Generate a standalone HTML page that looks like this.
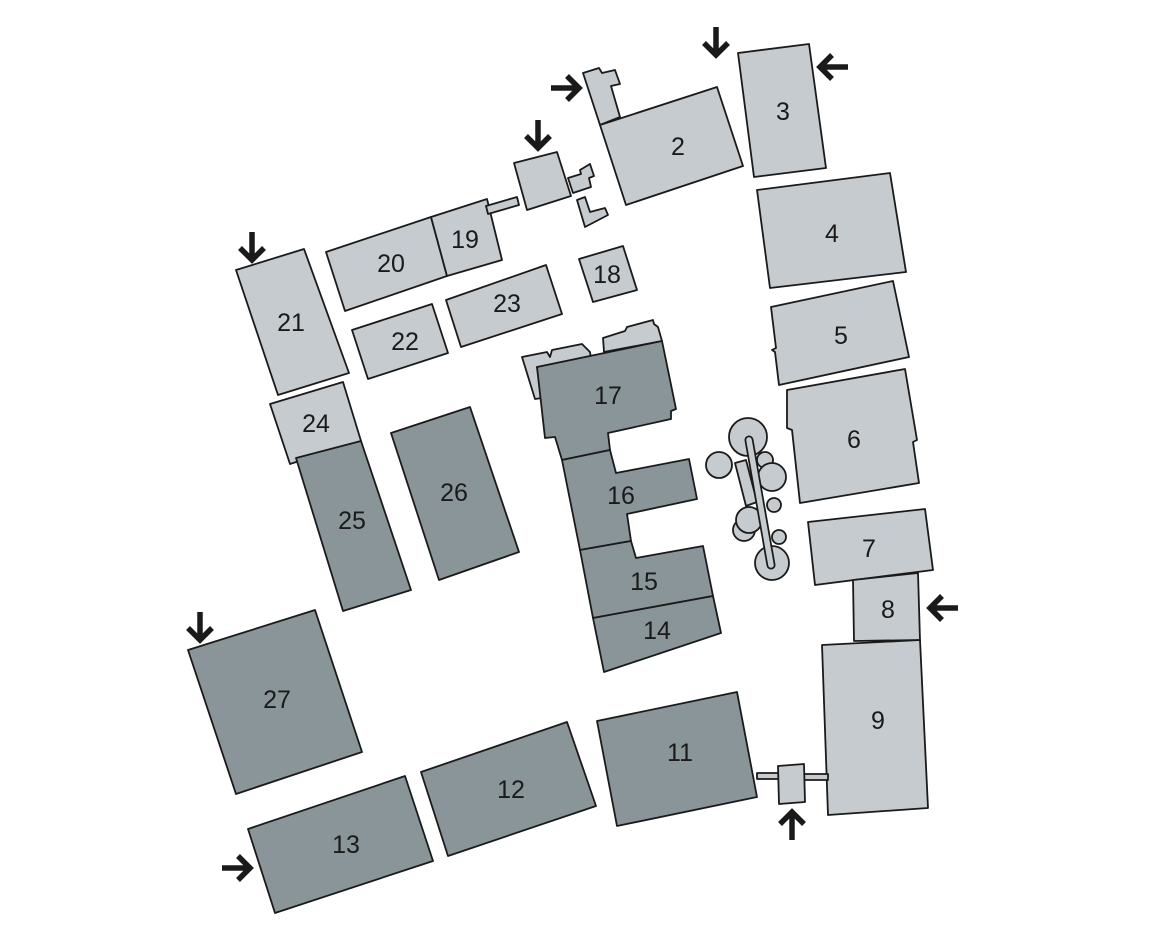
<!DOCTYPE html>
<html><head><meta charset="utf-8"><style>
html,body{margin:0;padding:0;background:#fff;}
svg{display:block;}
text{font-family:"Liberation Sans",sans-serif;font-size:25px;fill:#1a1a1a;text-anchor:middle;dominant-baseline:central;}
.l{fill:#c5cbce;stroke:#1a1a1a;stroke-width:1.8;stroke-linejoin:round;}
.d{fill:#8a9599;stroke:#1a1a1a;stroke-width:1.8;stroke-linejoin:round;}
.a{stroke:#1a1a1a;stroke-width:5.5;fill:none;}
</style></head><body>
<svg width="1160" height="935" viewBox="0 0 1160 935" xmlns="http://www.w3.org/2000/svg">
<polygon class="l" points="583,73 599,68 602,73 615,70 620,84 611,86 620,117 600,125"/>
<polygon class="l" points="600,125 717,87 743,166 626,205"/>
<polygon class="l" points="738,53 809,44 826,168 754,177"/>
<polygon class="l" points="757,190 890,173 906,272 770,288"/>
<polygon class="l" points="771,307 893,281 909,357 779,385 775,352 772,350 776,348"/>
<polygon class="l" points="787,390 905,369 917,440 913,442 919,483 800,503 792,430 787,428"/>
<polygon class="l" points="808,522 925,509 933,570 815,585"/>
<polygon class="l" points="853,580 918,573 920,640 854,641"/>
<polygon class="l" points="822,645 920,640 928,808 828,815"/>
<rect class="l" x="757" y="773" width="22" height="6"/>
<rect class="l" x="804" y="774" width="24" height="6"/>
<polygon class="l" points="778,766 804,764 805,802 779,804"/>
<polygon class="l" points="236,270 304,249 349,373 278,395"/>
<polygon class="l" points="352,330 432,304 448,353 368,379"/>
<polygon class="l" points="326,252 431,217 447,276 345,311"/>
<polygon class="l" points="431,217 487,199 502,260 447,276"/>
<polygon class="l" points="486,206 517,197 519,205 488,214"/>
<polygon class="l" points="514,163 557,152 571,196 527,210"/>
<polygon class="l" points="568,178 581,174 580,170 590,164 594,176 589,178 591,187 573,193"/>
<polygon class="l" points="577,200 585,197 590,212 605,208 608,215 585,227"/>
<polygon class="l" points="446,300 546,265 562,314 461,347"/>
<polygon class="l" points="579,259 623,246 637,290 593,302"/>
<polygon class="l" points="270,404 343,382 361,441 290,464"/>
<polygon class="l" points="522,357 547,352 550,357 552,350 582,344 590,352 591,358 537,367 542,398 535,399"/>
<polygon class="l" points="603,338 625,331 627,327 653,320 654,324 658,327 662,341 604,352"/>
<polygon class="d" points="537,367 662,341 676,409 671,411 671,419 608,433 610,450 562,460 555,437 545,438"/>
<polygon class="d" points="562,460 610,450 616,473 689,459 697,499 627,514 631,541 580,550"/>
<polygon class="d" points="580,550 631,541 636,558 703,546 713,596 593,618"/>
<polygon class="d" points="593,618 713,596 721,633 604,672"/>
<polygon class="d" points="296,458 361,441 411,590 343,611"/>
<polygon class="d" points="391,433 470,407 519,552 439,580"/>
<polygon class="d" points="188,650 315,610 362,752 236,794"/>
<polygon class="d" points="597,721 737,692 757,797 617,826"/>
<polygon class="d" points="421,772 567,722 596,806 448,856"/>
<polygon class="d" points="248,829 405,776 433,861 275,913"/>
<g class="l">
<circle cx="765" cy="460" r="8"/>
<circle cx="774" cy="505" r="7"/>
<circle cx="779" cy="537" r="7"/>
<circle cx="744" cy="530" r="11"/>
<circle cx="749" cy="520" r="13"/>
<circle cx="748" cy="437" r="19"/>
<circle cx="719" cy="465" r="13"/>
<circle cx="772" cy="477" r="14"/>
<circle cx="772" cy="563" r="17"/>
<polygon points="735,463 746,460 757,502 746,506"/>
<line x1="749" y1="440" x2="771" y2="565" stroke="#1a1a1a" stroke-width="9" stroke-linecap="round"/>
<line x1="749" y1="440" x2="771" y2="565" stroke="#c5cbce" stroke-width="5.5" stroke-linecap="round"/>
</g>
<text x="678" y="147">2</text>
<text x="783" y="112">3</text>
<text x="832" y="234">4</text>
<text x="841" y="336">5</text>
<text x="854" y="440">6</text>
<text x="869" y="549">7</text>
<text x="888" y="610">8</text>
<text x="878" y="721">9</text>
<text x="680" y="753">11</text>
<text x="511" y="790">12</text>
<text x="346" y="845">13</text>
<text x="657" y="631">14</text>
<text x="644" y="582">15</text>
<text x="621" y="496">16</text>
<text x="608" y="396">17</text>
<text x="607" y="275">18</text>
<text x="465" y="240">19</text>
<text x="391" y="264">20</text>
<text x="291" y="323">21</text>
<text x="405" y="342">22</text>
<text x="507" y="304">23</text>
<text x="316" y="424">24</text>
<text x="352" y="521">25</text>
<text x="454" y="493">26</text>
<text x="277" y="700">27</text>
<g class="a">
<path d="M716,27 V55 M704,43 L716,55 L728,43"/>
<path d="M538,120 V148 M526,136 L538,148 L550,136"/>
<path d="M252,232 V260 M240,248 L252,260 L264,248"/>
<path d="M200,612 V640 M188,628 L200,640 L212,628"/>
<path d="M551,88 H579 M567,76 L579,88 L567,100"/>
<path d="M222,868 H250 M238,856 L250,868 L238,880"/>
<path d="M848,67 H820 M832,55 L820,67 L832,79"/>
<path d="M958,608 H930 M942,596 L930,608 L942,620"/>
<path d="M792,840 V812 M780,824 L792,812 L804,824"/>
</g>
</svg>
</body></html>
